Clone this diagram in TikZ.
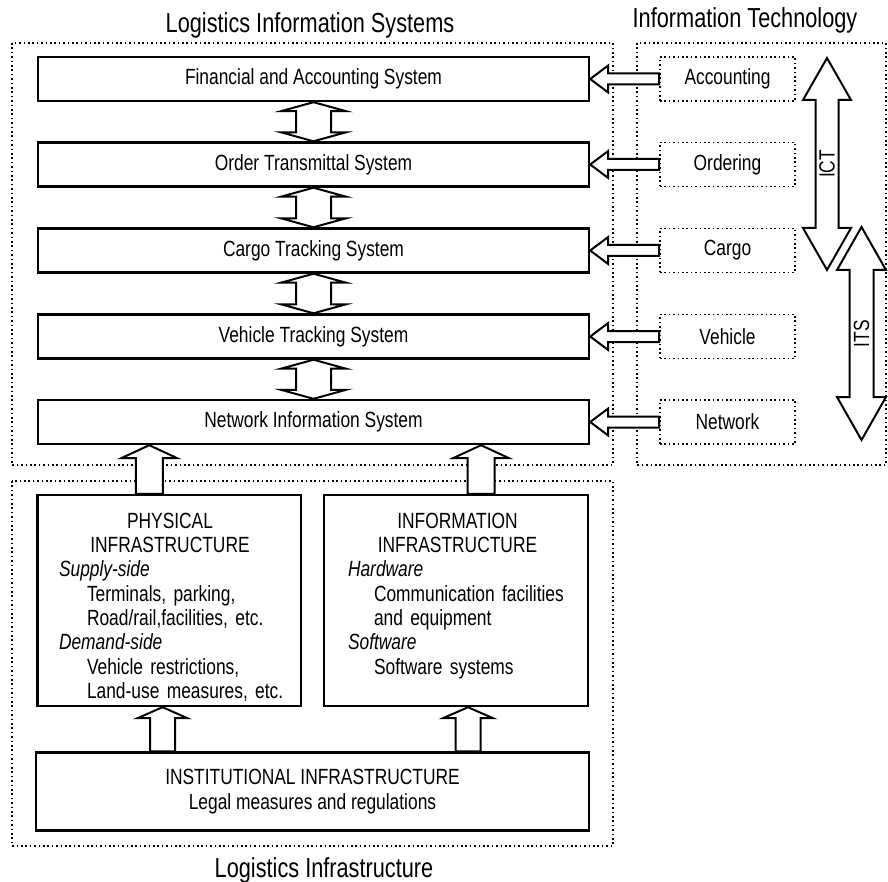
\documentclass[tikz,border=0pt]{standalone}
\usepackage{fontspec}
\setmainfont{Liberation Sans}[FakeStretch=0.79]
\usetikzlibrary{calc}
\setlength{\parindent}{0pt}
\setlength{\parskip}{0pt}

\newcommand{\boxtextfont}{\fontsize{22}{24.3}\selectfont}
\newcommand{\frametitlefont}{\fontsize{27.5}{32}\selectfont}

\tikzset{every picture/.style={line width=2pt}}
\tikzset{
  dotframe/.style={line width=1.6pt, dash pattern=on 1.6pt off 2.8pt},
  sysbox/.style={draw, line width=2.4pt, minimum width=551, minimum height=44, font=\boxtextfont},
  techbox/.style={draw, dotframe, minimum width=135, minimum height=44, font=\boxtextfont},
  infrabox/.style={draw, line width=2.4pt, font=\boxtextfont},
  infratext/.style={anchor=north west, inner sep=0pt, align=left, font=\boxtextfont},
  headline/.style={anchor=base, inner sep=0pt, font=\frametitlefont},
  blockarrow/.style={draw, fill=white, line width=2pt, line join=miter},
}

% block arrow pointing left, from #1.west to the east side of #2
\newcommand{\blockleft}[2]{%
  \coordinate (bl-tail) at (#1.west);
  \coordinate (bl-tip) at (#2.east |- #1.west);
  \draw[blockarrow] ($(bl-tail)+(0,-5.5)$) -- ($(bl-tip)+(18,-5.5)$) -- ($(bl-tip)+(18,-13.5)$) -- (bl-tip)
    -- ($(bl-tip)+(18,13.5)$) -- ($(bl-tip)+(18,5.5)$) -- ($(bl-tail)+(0,5.5)$) -- cycle;}
% block arrow pointing up, from #1.north (shifted by #3) to #2.south
% #4 half shaft, #5 half head, #6 head length
\newcommand{\blockup}[6]{%
  \coordinate (bu-tail) at ([xshift=#3pt]#1.north);
  \coordinate (bu-tip) at (bu-tail |- #2.south);
  \draw[blockarrow] ($(bu-tail)+(-#4,0)$) -- ($(bu-tip)+(-#4,#6)$) -- ($(bu-tip)+(-#5,#6)$) -- (bu-tip)
    -- ($(bu-tip)+(#5,#6)$) -- ($(bu-tip)+(#4,#6)$) -- ($(bu-tail)+(#4,0)$) -- cycle;}
% two-headed vertical block arrow between #1 (top) and #2 (bottom)
\newcommand{\dblockarrow}[5]{%
  \coordinate (bd-top) at (#1);
  \coordinate (bd-bot) at (#2);
  \draw[blockarrow] (bd-top) -- ($(bd-top)+(#4,#5)$) -- ($(bd-top)+(#3,#5)$) -- ($(bd-bot)+(#3,-#5)$)
    -- ($(bd-bot)+(#4,-#5)$) -- (bd-bot) -- ($(bd-bot)+(-#4,-#5)$) -- ($(bd-bot)+(-#3,-#5)$)
    -- ($(bd-top)+(-#3,#5)$) -- ($(bd-top)+(-#4,#5)$) -- cycle;}

\begin{document}
\begin{tikzpicture}[x=1pt,y=1pt,yscale=-1,xscale=1]
\useasboundingbox (0,0) rectangle (888,882);

%Dotted frames
\draw[dotframe] (12,43) rectangle (613,465);
\draw[dotframe] (637,43) rectangle (886,465);
\draw[dotframe] (12,481) rectangle (613,846);

% Frame titles
\node[headline] (lisTitle) at (310,33) {Logistics Information Systems};
\node[headline] (itTitle) at (745,28) {Information Technology};
\node[headline] (liTitle) at (324,877) {Logistics Infrastructure};

%Shape: system boxes
\node[sysbox] (fin) at (313.5,79) {Financial and Accounting System};
\node[sysbox] (ord) at (313.5,164.5) {Order Transmittal System};
\node[sysbox] (cargo) at (313.5,250.5) {Cargo Tracking System};
\node[sysbox] (veh) at (313.5,336.5) {Vehicle Tracking System};
\node[sysbox] (net) at (313.5,422) {Network Information System};

%Shape: technology boxes
\node[techbox] (acc) at (727.5,79) {Accounting};
\node[techbox] (ordering) at (727.5,164.5) {Ordering};
\node[techbox] (cargoIT) at (727.5,250.5) {Cargo};
\node[techbox] (vehIT) at (727.5,336.5) {Vehicle};
\node[techbox] (netIT) at (727.5,422) {Network};

%Shape: infrastructure boxes
\node[infrabox, minimum width=263.5, minimum height=211] (phys) at (169.25,600.5) {};
\node[infrabox, minimum width=264, minimum height=211] (info) at (456,600.5) {};
\node[infrabox, minimum width=553, minimum height=78, align=center] (inst) at (312.5,791.5)
  {INSTITUTIONAL INFRASTRUCTURE\\Legal measures and regulations};

% Text Node
\node[infratext, text width=240] (physText) at (58,512) {%
  \makebox[222pt]{PHYSICAL}\par
  \makebox[222pt]{INFRASTRUCTURE}\par
  \textit{Supply-side}\par
  \hspace*{28pt}Terminals, parking,\par
  \hspace*{28pt}Road/rail,facilities, etc.\par
  \textit{Demand-side}\par
  \hspace*{28pt}Vehicle restrictions,\par
  \hspace*{28pt}Land-use measures, etc.\par};
% Text Node
\node[infratext, text width=238] (infoText) at (347,512) {%
  \makebox[219pt]{INFORMATION}\par
  \makebox[219pt]{INFRASTRUCTURE}\par
  \textit{Hardware}\par
  \hspace*{26pt}Communication facilities\par
  \hspace*{26pt}and equipment\par
  \textit{Software}\par
  \hspace*{26pt}Software systems\par};

%Double arrows between systems
\dblockarrow{fin.south}{ord.north}{17.5}{32.5}{9}
\dblockarrow{ord.south}{cargo.north}{17.5}{32.5}{9}
\dblockarrow{cargo.south}{veh.north}{17.5}{32.5}{9}
\dblockarrow{veh.south}{net.north}{17.5}{32.5}{9}

%Left arrows from technology
\foreach \src/\dst in {acc/fin, ordering/ord, cargoIT/cargo, vehIT/veh, netIT/net}
  {\blockleft{\src}{\dst}}

%Up arrows
\blockup{phys}{net}{-20}{13.5}{28}{13}
\blockup{info}{net}{25}{13.5}{28}{13}
\blockup{inst}{phys}{-150}{12.5}{25}{11}
\blockup{inst}{info}{155.5}{12.5}{25}{11}

%ICT and ITS
\coordinate (ict-top) at (827,58);
\coordinate (ict-bot) at (827,270);
\coordinate (its-top) at (861.5,227);
\coordinate (its-bot) at (861.5,440);
\dblockarrow{ict-top}{ict-bot}{11.5}{24}{42}
\dblockarrow{its-top}{its-bot}{12}{24.5}{43}
\node[rotate=90, font=\boxtextfont] (ictLabel) at (827,164) {ICT};
\node[rotate=90, font=\boxtextfont] (itsLabel) at (861.5,333.5) {ITS};

\end{tikzpicture}
\end{document}
